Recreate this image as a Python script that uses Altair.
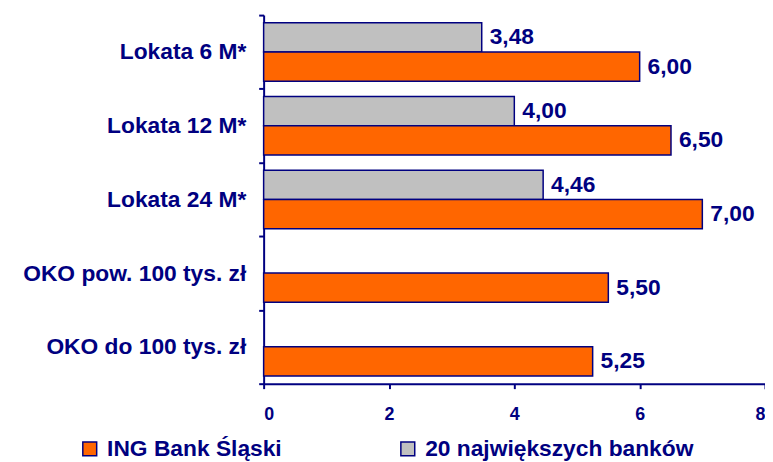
import altair as alt
import pandas as pd

categories = ["Lokata 6 M*", "Lokata 12 M*", "Lokata 24 M*", "OKO pow. 100 tys. zł", "OKO do 100 tys. zł"]
series_ing = "ING Bank Śląski"
series_top = "20 największych banków"
ing_values = [6.00, 6.50, 7.00, 5.50, 5.25]
top_values = [3.48, 4.00, 4.46, None, None]

rows = []
for c, v_top, v_ing in zip(categories, top_values, ing_values):
    if v_top is not None:
        rows.append({"category": c, "series": series_top, "value": v_top})
    rows.append({"category": c, "series": series_ing, "value": v_ing})
df = pd.DataFrame(rows)
df["label"] = df["value"].map(lambda v: f"{v:.2f}".replace(".", ","))

NAVY = "#000080"
FONT = "Liberation Sans"

base = alt.Chart(df).encode(
    y=alt.Y(
        "category:N",
        sort=categories,
        scale=alt.Scale(paddingInner=0, paddingOuter=0),
        axis=alt.Axis(
            title=None,
            tickBand="extent",
            labelFont=FONT,
            labelFontSize=23,
            labelFontWeight="bold",
            labelColor=NAVY,
            labelLimit=300,
            labelPadding=13,
            domainColor=NAVY,
            domainWidth=2,
            tickColor=NAVY,
            tickWidth=2,
            tickSize=5,
        ),
    ),
    yOffset=alt.YOffset(
        "series:N",
        scale=alt.Scale(domain=[series_top, series_ing], paddingInner=0, paddingOuter=0.26),
    ),
)

bars = base.mark_bar(stroke=NAVY, strokeWidth=1.5).encode(
    x=alt.X(
        "value:Q",
        scale=alt.Scale(domain=[0, 8]),
        axis=alt.Axis(
            title=None,
            values=[0, 2, 4, 6, 8],
            format="d",
            grid=False,
            labelFont=FONT,
            labelFontSize=18,
            labelFontWeight="bold",
            labelColor=NAVY,
            labelPadding=17,
            domainColor=NAVY,
            domainWidth=2,
            tickColor=NAVY,
            tickWidth=2,
            tickSize=5,
        ),
    ),
    color=alt.Color(
        "series:N",
        scale=alt.Scale(domain=[series_ing, series_top], range=["#FF6600", "#C0C0C0"]),
        legend=alt.Legend(
            title=None,
            orient="none",
            legendX=-187,
            legendY=426,
            direction="horizontal",
            symbolType="square",
            symbolSize=196,
            symbolStrokeColor=NAVY,
            symbolStrokeWidth=1.5,
            labelFont=FONT,
            labelFontSize=23,
            labelFontWeight="bold",
            labelColor=NAVY,
            labelLimit=400,
            labelOffset=6,
            columnPadding=115,
        ),
    ),
)

text = base.mark_text(
    align="left", dx=8, font=FONT, fontSize=23, fontWeight="bold", color=NAVY
).encode(x="value:Q", text="label:N")

chart = (
    alt.layer(bars, text)
    .properties(
        width=506,
        height=372,
        autosize=alt.AutoSizeParams(type="none"),
        padding={"left": 258, "top": 5, "right": 0, "bottom": 90},
    )
    .configure_view(stroke=None)
)

chart.save("out.html", embed_options={"renderer": "svg", "actions": False})
